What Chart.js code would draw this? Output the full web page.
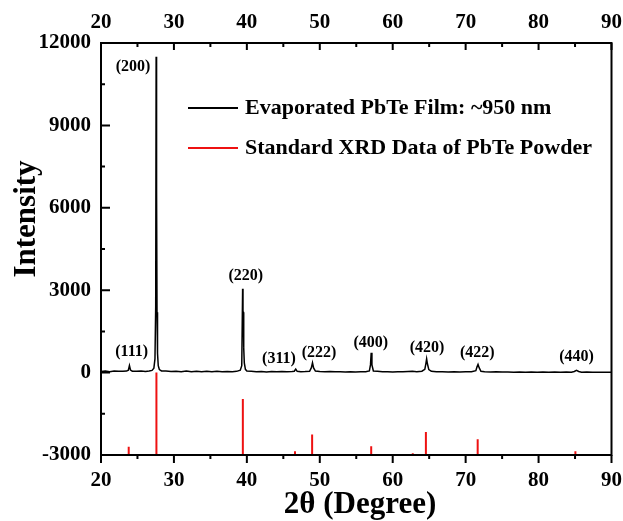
<!DOCTYPE html>
<html lang="en">
<head>
  <meta charset="UTF-8">
  <title>XRD PbTe</title>
  <script src="https://cdn.jsdelivr.net/npm/chart.js"></script>
  <style>
    body { margin: 0; background: #fff; }
    .wrap { width: 623px; height: 521px; }
  </style>
</head>
<body>
  <div class="wrap"><canvas id="xrdChart"></canvas></div>

  <script>
    // Evaporated film scan (2theta, counts)
    const twoTheta = [20.0, 20.6, 21.2, 21.8, 22.4, 23.0, 23.5, 23.75, 23.9, 24.05, 24.3, 24.9, 25.5, 26.1, 26.6,
      27.0, 27.25, 27.4, 27.5, 27.56, 27.6, 27.64, 27.68, 27.75, 27.85, 28.0, 28.3, 28.9, 29.6, 30.3, 31.0, 31.7,
      32.4, 33.1, 33.8, 34.5, 35.2, 35.9, 36.6, 37.3, 38.0, 38.6, 39.1, 39.3, 39.42, 39.47, 39.52, 39.57, 39.65,
      39.8, 40.0, 40.6, 41.3, 42.0, 42.7, 43.4, 44.1, 44.8, 45.5, 46.2, 46.5, 46.7, 46.9, 47.4, 48.0, 48.6, 48.85,
      49.0, 49.15, 49.4, 50.0, 50.7, 51.4, 52.1, 52.8, 53.5, 54.2, 54.9, 55.6, 56.3, 56.8, 56.95, 57.05, 57.15,
      57.35, 57.9, 58.6, 59.3, 60.0, 60.7, 61.4, 62.1, 62.7, 63.3, 64.0, 64.4, 64.55, 64.65, 64.75, 64.95, 65.3,
      66.0, 66.8, 67.6, 68.4, 69.2, 70.0, 70.8, 71.4, 71.55, 71.7, 71.85, 72.1, 72.6, 73.4, 74.2, 75.0, 75.8,
      76.6, 77.4, 78.2, 79.0, 79.8, 80.6, 81.4, 82.2, 83.0, 83.8, 84.5, 84.9, 85.2, 85.5, 85.9, 86.6, 87.4, 88.2,
      89.0, 90.0];
    const filmCounts = [40, 55, 35, 60, 45, 50, 55, 90, 260, 90, 50, 45, 55, 40, 60,
      80, 160, 500, 2400, 11500, 6700, 6600, 2200, 700, 250, 110, 60, 55, 40, 50, 35, 55,
      30, 50, 35, 45, 30, 50, 35, 40, 30, 45, 90, 250, 3050, 2200, 2200, 900, 350,
      120, 60, 45, 30, 40, 25, 40, 30, 40, 30, 40, 50, 130, 45, 35, 40, 50, 180,
      360, 170, 55, 40, 30, 40, 30, 35, 25, 35, 25, 35, 30, 60, 280, 720, 280,
      60, 45, 30, 35, 25, 35, 30, 40, 45, 35, 50, 120, 330, 500, 330, 110, 45,
      30, 35, 25, 30, 25, 30, 35, 70, 200, 300, 180, 50, 30, 25, 30, 20, 25,
      15, 25, 15, 20, 10, 20, 10, 20, 10, 20, 15, 40, 80, 40, 15, 20, 10, 15,
      10, 15];

    // Standard PbTe powder pattern: positions and relative intensity (%)
    const stdTheta = [23.8, 27.6, 39.45, 46.6, 48.95, 57.05, 62.75, 64.55, 71.65, 76.85, 85.05];
    const stdRelative = [10, 100, 68, 4.5, 25, 10.5, 2, 28, 19, 1, 4.5];

    // Miller index labels and where they sit (data units)
    const peakNames = ["(111)", "(200)", "(220)", "(311)", "(222)", "(400)", "(420)", "(422)", "(440)"];
    const peakLabelX = [24.2, 24.4, 39.85, 44.4, 49.9, 57.0, 64.7, 71.6, 85.2];
    const peakLabelY = [760, 11120, 3540, 500, 720, 1080, 900, 720, 580];

    const xTicks = [20, 30, 40, 50, 60, 70, 80, 90];
    const yTicks = [-3000, 0, 3000, 6000, 9000, 12000];

    const SERIF = "'Liberation Serif', 'Times New Roman', serif";
    const STD_FLOOR = -3000;

    const filmData = twoTheta.map((t, i) => ({ x: t, y: filmCounts[i] }));
    const stickData = [];
    stdTheta.forEach((t, i) => {
      stickData.push({ x: t, y: STD_FLOOR });
      stickData.push({ x: t, y: STD_FLOOR + stdRelative[i] * 30 });
      stickData.push({ x: t, y: null });
    });

    // frame, inward/outward ticks, legend, peak labels, axis titles
    const decor = {
      id: "decor",
      afterDraw(chart) {
        const ctx = chart.ctx;
        const a = chart.chartArea;
        const sx = chart.scales.x, sy = chart.scales.y;
        ctx.save();
        ctx.strokeStyle = "#000";
        ctx.lineWidth = 2;
        ctx.strokeRect(a.left, a.top, a.right - a.left, a.bottom - a.top);

        ctx.beginPath();
        for (let v = 20; v <= 90; v += 5) {
          const px = sx.getPixelForValue(v);
          const major = v % 10 === 0;
          ctx.moveTo(px, a.bottom); ctx.lineTo(px, a.bottom + (major ? 8 : 4));
          ctx.moveTo(px, a.top); ctx.lineTo(px, a.top + (major ? 7 : 4));
        }
        for (let v = -3000; v <= 12000; v += 1500) {
          const py = sy.getPixelForValue(v);
          const major = v % 3000 === 0;
          ctx.moveTo(a.left, py); ctx.lineTo(a.left + (major ? 9 : 4), py);
        }
        ctx.stroke();

        // legend
        const lx = 188, ly1 = 108, ly2 = 148;
        ctx.lineWidth = 2;
        ctx.strokeStyle = "#000";
        ctx.beginPath(); ctx.moveTo(lx, ly1); ctx.lineTo(lx + 50, ly1); ctx.stroke();
        ctx.strokeStyle = "#ee1111";
        ctx.beginPath(); ctx.moveTo(lx, ly2); ctx.lineTo(lx + 50, ly2); ctx.stroke();
        ctx.fillStyle = "#000";
        ctx.font = "bold 22px " + SERIF;
        ctx.textAlign = "left";
        ctx.textBaseline = "middle";
        ctx.fillText(chart.data.datasets[0].label, lx + 57, ly1);
        ctx.fillText(chart.data.datasets[1].label, lx + 57, ly2);

        // peak labels
        ctx.font = "bold 16px " + SERIF;
        ctx.textAlign = "center";
        peakNames.forEach((n, i) => {
          ctx.fillText(n, sx.getPixelForValue(peakLabelX[i]), sy.getPixelForValue(peakLabelY[i]));
        });

        // axis titles
        ctx.font = "bold 31px " + SERIF;
        ctx.fillText("2\u03b8 (Degree)", 360, 505);
        ctx.translate(27, 219);
        ctx.rotate(-Math.PI / 2);
        ctx.fillText("Intensity", 0, 0);
        ctx.restore();
      }
    };

    const tickFont = { family: SERIF, size: 21, weight: "bold" };

    new Chart(document.getElementById("xrdChart"), {
      type: "line",
      data: {
        datasets: [
          { label: "Evaporated PbTe Film: ~950 nm", data: filmData, borderColor: "#000", borderWidth: 1.5,
            pointRadius: 0, tension: 0 },
          { label: "Standard XRD Data of PbTe Powder", data: stickData, borderColor: "#ee1111", borderWidth: 2,
            pointRadius: 0, spanGaps: false }
        ]
      },
      options: {
        responsive: true,
        maintainAspectRatio: false,
        animation: false,
        layout: { padding: { right: 1, left: 0, top: 0, bottom: 0 } },
        plugins: { legend: { display: false }, tooltip: { enabled: false } },
        scales: {
          x: {
            type: "linear", position: "bottom", min: 20, max: 90,
            afterBuildTicks: s => { s.ticks = xTicks.map(v => ({ value: v })); },
            afterFit: s => { s.height = 66; },
            ticks: { font: tickFont, color: "#000", padding: 1, maxRotation: 0 },
            grid: { display: false, drawTicks: true, tickLength: 12 },
            border: { display: false }
          },
          x2: {
            type: "linear", position: "top", min: 20, max: 90,
            afterBuildTicks: s => { s.ticks = xTicks.map(v => ({ value: v })); },
            afterFit: s => { s.height = 43; },
            ticks: { font: tickFont, color: "#000", padding: 1, maxRotation: 0 },
            grid: { display: false, drawTicks: true, tickLength: 7 },
            border: { display: false }
          },
          y: {
            type: "linear", min: -3000, max: 12000,
            afterBuildTicks: s => { s.ticks = yTicks.map(v => ({ value: v })); },
            afterFit: s => { s.width = 101; },
            ticks: { font: tickFont, color: "#000", padding: 10, callback: v => String(v) },
            grid: { display: false, drawTicks: false },
            border: { display: false }
          }
        }
      },
      plugins: [decor]
    });
  </script>
</body>
</html>
